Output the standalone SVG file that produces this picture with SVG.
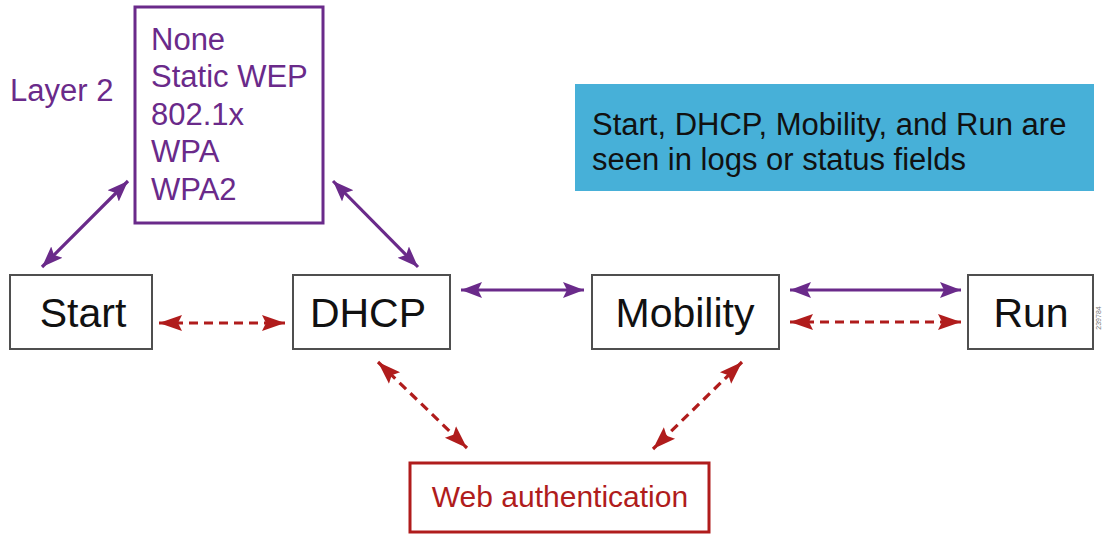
<svg xmlns="http://www.w3.org/2000/svg" width="1104" height="535" viewBox="0 0 1104 535">
  <style>
    .state rect { fill: #ffffff; stroke: #4f4f4f; stroke-width: 2; }
    .state text { font-family: "Liberation Sans", Arial, sans-serif; font-size: 41px; fill: #111111; text-anchor: middle; }
    .purple { font-family: "Liberation Sans", Arial, sans-serif; font-size: 31px; fill: #6a2a8a; }
    .note { font-family: "Liberation Sans", Arial, sans-serif; font-size: 31px; fill: #111111; }
    .link-p { stroke: #6a2a8a; stroke-width: 3.2; fill: none; }
    .link-r { stroke: #b01c1c; stroke-width: 3.2; fill: none; stroke-dasharray: 9 6; }
  </style>
  <defs>
    <marker id="headP" markerUnits="userSpaceOnUse" markerWidth="22" markerHeight="18" refX="21" refY="9" orient="auto-start-reverse">
      <path d="M0,1 L21,9 L0,17 L4,9 Z" fill="#6a2a8a" stroke="none"/>
    </marker>
    <marker id="headR" markerUnits="userSpaceOnUse" markerWidth="24" markerHeight="18" refX="23" refY="9" orient="auto-start-reverse">
      <path d="M0,1 L23,9 L0,17 L4,9 Z" fill="#b01c1c" stroke="none"/>
    </marker>
  </defs>

  <rect width="1104" height="535" fill="#ffffff"/>

  <!-- Layer 2 security options -->
  <g id="layer2">
    <text class="purple" x="10" y="101">Layer 2</text>
    <rect x="135" y="7" width="188" height="216" fill="#ffffff" stroke="#6a2a8a" stroke-width="3"/>
    <text class="purple" x="151" y="50">None</text>
    <text class="purple" x="151" y="87">Static WEP</text>
    <text class="purple" x="151" y="125">802.1x</text>
    <text class="purple" x="151" y="162">WPA</text>
    <text class="purple" x="151" y="200">WPA2</text>
  </g>

  <!-- Note box -->
  <g id="note">
    <rect x="575" y="84" width="519" height="107" fill="#47b0d8"/>
    <text class="note" x="592" y="135">Start, DHCP, Mobility, and Run are</text>
    <text class="note" x="592" y="170">seen in logs or status fields</text>
  </g>

  <!-- States -->
  <g id="start" class="state">
    <rect x="10" y="275" width="142" height="74"/>
    <text x="83" y="327">Start</text>
  </g>
  <g id="dhcp" class="state">
    <rect x="293" y="275" width="157" height="74"/>
    <text x="368" y="327">DHCP</text>
  </g>
  <g id="mobility" class="state">
    <rect x="592" y="275" width="187" height="74"/>
    <text x="685" y="327">Mobility</text>
  </g>
  <g id="run" class="state">
    <rect x="968" y="275" width="125" height="74"/>
    <text x="1031" y="327">Run</text>
  </g>

  <!-- Web authentication -->
  <g id="webauth">
    <rect x="410" y="463" width="299" height="69" fill="#ffffff" stroke="#b01c1c" stroke-width="3"/>
    <text x="560" y="507" font-family="Liberation Sans, Arial, sans-serif" font-size="30" fill="#b01c1c" text-anchor="middle">Web authentication</text>
  </g>

  <!-- Figure number -->
  <text x="1101" y="318" font-family="Liberation Sans, Arial, sans-serif" font-size="7" fill="#777777" text-anchor="middle" transform="rotate(-90 1101 318)">239784</text>

  <!-- Connectors -->
  <g id="connectors">
    <line class="link-p" x1="42" y1="267" x2="128" y2="181" marker-start="url(#headP)" marker-end="url(#headP)"/>
    <line class="link-p" x1="333" y1="181" x2="418" y2="267" marker-start="url(#headP)" marker-end="url(#headP)"/>
    <line class="link-p" x1="461" y1="290" x2="584" y2="290" marker-start="url(#headP)" marker-end="url(#headP)"/>
    <line class="link-p" x1="790" y1="290" x2="961" y2="290" marker-start="url(#headP)" marker-end="url(#headP)"/>
    <line class="link-r" x1="159" y1="323" x2="285" y2="323" marker-start="url(#headR)" marker-end="url(#headR)"/>
    <line class="link-r" x1="790" y1="322" x2="961" y2="322" marker-start="url(#headR)" marker-end="url(#headR)"/>
    <line class="link-r" x1="378" y1="362" x2="467" y2="448" marker-start="url(#headR)" marker-end="url(#headR)"/>
    <line class="link-r" x1="742" y1="362" x2="653" y2="449" marker-start="url(#headR)" marker-end="url(#headR)"/>
  </g>
</svg>
